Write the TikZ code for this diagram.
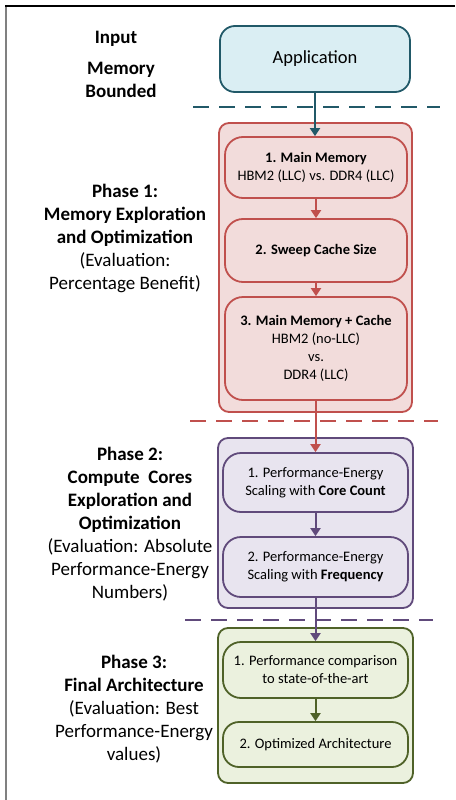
\documentclass[tikz,border=0pt]{standalone}
\usepackage{fontspec}
\setmainfont{Carlito}
\usetikzlibrary{arrows.meta}
\definecolor{tealD}{HTML}{215968}
\definecolor{tealL}{HTML}{DAEEF3}
\definecolor{redD}{HTML}{C0504D}
\definecolor{redL}{HTML}{F2DCDB}
\definecolor{purD}{HTML}{604A7B}
\definecolor{purL}{HTML}{E8E4EF}
\definecolor{grnD}{HTML}{4F6228}
\definecolor{grnL}{HTML}{EBF1DE}
\tikzset{
  cont/.style={draw, line width=1.8pt, rounded corners=10pt, inner sep=0pt},
  inbox/.style={draw, line width=1.8pt, rounded corners=18pt, inner sep=0pt, align=center,
    font=\fontsize{14.5}{18}\selectfont},
  arr/.style={-{Triangle[width=10pt,length=8pt]}, line width=2pt},
  sep/.style={line width=1.8pt, dash pattern=on 16pt off 10pt},
  lbl/.style={align=center, inner sep=0pt, font=\fontsize{19}{23}\selectfont},
}
\begin{document}
\begin{tikzpicture}[x=1pt,y=-1pt]
\useasboundingbox (0,0) rectangle (455,800);
% frame
\draw[gray, line width=2pt] (5.5,5) -- (5.5,800);
\draw[black, line width=1.4pt] (5,6) -- (455,6);

% input
\node[draw=tealD, fill=tealL, line width=1.8pt, rounded corners=15pt, minimum width=190pt, minimum height=66pt,
  font=\fontsize{18.5}{22}\selectfont] (app) at (315,59) {Application};
\node[lbl, font=\bfseries\fontsize{19}{23}\selectfont] (lin) at (116,39) {Input};
\node[lbl, font=\bfseries\fontsize{19}{23}\selectfont] (lmb) at (121,80) {Memory\\Bounded};
\draw[sep, tealD] (193,107) -- (440,107);

% phase 1
\node[cont, draw=redD, fill=redL, minimum width=193pt, minimum height=289pt] (p1) at (315.5,267.5) {};
\node[inbox, draw=redD, fill=redL, minimum width=182pt, minimum height=61pt] (b1) at (316,167.5)
  {\textbf{1. Main Memory}\\HBM2 (LLC) vs. DDR4 (LLC)};
\node[inbox, draw=redD, fill=redL, minimum width=182pt, minimum height=63pt] (b2) at (316,250.5)
  {\textbf{2. Sweep Cache Size}};
\node[inbox, draw=redD, fill=redL, minimum width=182pt, minimum height=103pt] (b3) at (316,348.5)
  {\textbf{3. Main Memory + Cache}\\HBM2 (no-LLC)\\vs.\\DDR4 (LLC)};
\node[lbl] (l1) at (125,238) {\textbf{Phase 1:}\\\textbf{Memory Exploration}\\\textbf{and Optimization}\\(Evaluation:\\Percentage Benefit)};
\draw[sep, redD] (190,421) -- (438,421);

% phase 2
\node[cont, draw=purD, fill=purL, minimum width=195pt, minimum height=170pt] (p2) at (315.5,523) {};
\node[inbox, draw=purD, fill=purL, minimum width=185pt, minimum height=59pt] (c1) at (315.5,482.5)
  {1. Performance-Energy\\Scaling with \textbf{Core Count}};
\node[inbox, draw=purD, fill=purL, minimum width=185pt, minimum height=60pt] (c2) at (315.5,567)
  {2. Performance-Energy\\Scaling with \textbf{Frequency}};
\node[lbl] (l2) at (130,524) {\textbf{Phase 2:}\\\textbf{Compute\ \ Cores}\\\textbf{Exploration and}\\\textbf{Optimization}\\(Evaluation: Absolute\\Performance-Energy\\Numbers)};
\draw[sep, purD] (185,620) -- (433,620);

% phase 3
\node[cont, draw=grnD, fill=grnL, minimum width=195pt, minimum height=155pt] (p3) at (315.5,705.5) {};
\node[inbox, draw=grnD, fill=grnL, minimum width=185pt, minimum height=56pt] (d1) at (315.5,670)
  {1. Performance comparison\\to state-of-the-art};
\node[inbox, draw=grnD, fill=grnL, minimum width=185pt, minimum height=45pt, rounded corners=16pt] (d2) at (315.5,744.5)
  {2. Optimized Architecture};
\node[lbl] (l3) at (134,709.5) {\textbf{Phase 3:}\\\textbf{Final Architecture}\\(Evaluation: Best\\Performance-Energy\\values)};

% arrows
\draw[arr, tealD] (app.south) -- (app.south |- b1.north);
\draw[arr, redD] (b1) -- (b2);
\draw[arr, redD] (b2) -- (b3);
\draw[arr, redD] (b3.south -| c1.north) -- (c1.north);
\draw[arr, purD] (c1) -- (c2);
\draw[arr, purD] (c2.south) -- (d1.north);
\draw[arr, grnD] (d1) -- (d2);
\end{tikzpicture}
\end{document}
